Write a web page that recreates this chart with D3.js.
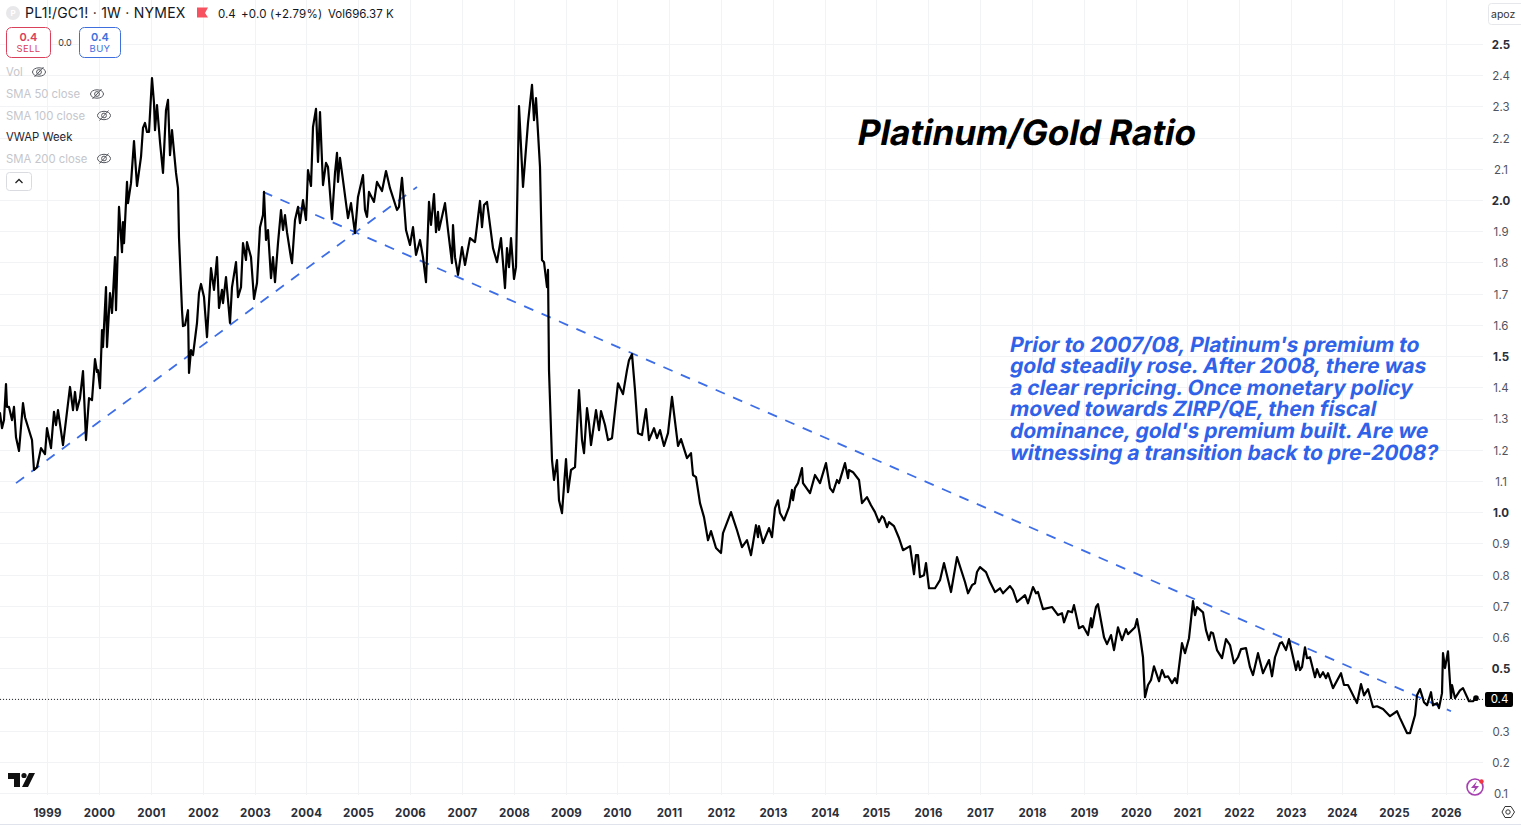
<!DOCTYPE html>
<html>
<head>
<meta charset="utf-8">
<script src="https://cdn.jsdelivr.net/npm/d3@7"></script>
<style>
html,body{margin:0;padding:0;background:#fff;overflow:hidden}
svg{display:block;font-family:Inter,"Noto Sans",sans-serif}
</style>
</head>
<body>
<svg id="c" width="1521" height="826"></svg>
<script>
// weekly bar index (0 = first bar of 1999) and Platinum/Gold ratio
const barsA=[-47,-45,-43,-41,-40,-38,-35,-33,-31,-28,-24,-22,-15,-13,-10,-6,-2,0,4,7,9,11,16,23,26,28,30,33,36,39,42,45,48,50,51,53,55,56,59,60,63,65,68,69,72,75,76,77,80,81,84,87,90,94,96,98,100,102,105,107,108,110,113,116,119,121,123,125,129,131,132,135,136,138,141,142,144,146,150,152,154,157,160,164,167,170,172,175,176,179,183,185,189,191,194,196,199,200,204,207,210,213,216,217,219,221,224,226,228,231,234,236,238,240,244,245,248,251];
const ratioA=[1.317,1.269,1.295,1.410,1.337,1.337,1.295,1.337,1.240,1.196,1.349,1.304,1.231,1.135,1.144,1.205,1.186,1.269,1.205,1.321,1.279,1.327,1.215,1.401,1.327,1.385,1.327,1.365,1.452,1.231,1.365,1.359,1.490,1.449,1.455,1.397,1.583,1.529,1.721,1.529,1.702,1.638,1.817,1.647,1.978,1.833,1.929,1.862,2.058,1.990,2.054,2.189,2.045,2.138,2.231,2.247,2.218,2.218,2.391,2.311,2.224,2.304,2.186,2.087,2.288,2.321,2.144,2.224,2.087,2.038,1.881,1.647,1.596,1.599,1.647,1.446,1.519,1.503,1.606,1.702,1.731,1.689,1.561,1.782,1.712,1.817,1.654,1.712,1.670,1.753,1.606,1.721,1.801,1.689,1.721,1.862,1.808,1.865,1.817,1.683,1.734,1.913,1.952,2.026,1.872,1.904,1.750,1.817,1.737,1.862,1.968,1.904,1.952,1.897,1.814,1.798,1.936,1.978];
const barsB=[253,256,259,261,264,266,269,271,273,276,279,281,285,288,290,291,293,296,299,301,304,308,311,316,318,320,322,327,330,335,339,343,350,352,355,357,359,363,366,369,373,376,379,382,384,387,389,391,392,398,401,405,406,408,411,415,418,423,428,433,435,437,440,446,450,454,458,460,462,464,467,469,472,476,481,485,487,489,493,495,497,500,501,502,505,507,510,512,515,519,521,524,528,532];
const ratioB=[1.926,2.000,1.936,2.096,2.045,2.234,2.292,2.122,2.282,2.048,2.119,2.106,1.939,2.087,2.151,2.058,2.135,2.064,1.990,1.942,1.990,1.894,2.010,2.080,1.968,1.946,2.026,1.994,2.058,2.029,2.093,2.038,1.968,1.978,2.071,1.990,1.904,1.856,1.913,1.824,1.872,1.817,1.737,1.994,1.920,2.019,1.897,1.962,1.904,1.990,1.904,1.798,1.920,1.817,1.760,1.849,1.792,1.878,1.865,1.997,1.913,1.984,1.994,1.846,1.801,1.878,1.718,1.846,1.785,1.878,1.747,1.785,2.301,2.042,2.247,2.369,2.256,2.327,2.106,1.808,1.801,1.721,1.776,1.455,1.167,1.103,1.167,1.038,0.997,1.170,1.064,1.135,1.144,1.391];
const barsC=[535,537,540,542,544,549,552,554,558,561,565,571,576,580,582,585,588,591,595,599,602,607,610,613,617,621,625,631,634,640,644,646,649,653,657,661,664,669,674,676,684,690,695,700,704,709,711,712,716,722,725,728,731];
const ratioC=[1.231,1.189,1.333,1.285,1.215,1.327,1.263,1.324,1.279,1.231,1.237,1.413,1.378,1.455,1.487,1.506,1.391,1.253,1.247,1.330,1.231,1.269,1.237,1.263,1.212,1.253,1.369,1.212,1.234,1.173,1.189,1.119,1.112,1.029,0.984,0.910,0.939,0.885,0.869,0.933,1.000,0.942,0.888,0.910,0.862,0.958,0.920,0.955,0.901,0.949,0.920,1.013,1.038];
const barsD=[733,737,742,745,746,748,751,755,756,763,768,773,779,783,786,790,792,798,801,802,806,812,815,820,824,828,832,835,837,840,842,847,852,856,863,867,869,871,873,877,879,882,888,893,897,904,910,918,921,925,928,930,933];
const ratioD=[0.997,0.974,1.016,1.071,1.038,1.077,1.093,1.141,1.093,1.061,1.119,1.093,1.157,1.077,1.064,1.103,1.093,1.157,1.109,1.135,1.128,1.103,1.029,1.048,1.022,1.000,0.968,0.987,0.981,0.952,0.968,0.955,0.917,0.878,0.891,0.801,0.862,0.862,0.792,0.798,0.837,0.756,0.756,0.782,0.837,0.744,0.856,0.776,0.740,0.766,0.772,0.808,0.824];
const barsE=[939,943,948,953,956,963,966,970,978,981,986,989,991,996,1005,1011,1015,1017,1021,1025,1027,1032,1036,1041,1044,1045,1049,1051,1057,1060,1064,1067,1071,1075,1079,1081,1088,1090,1093,1096,1098,1101,1104,1107,1112,1115,1118,1121,1125,1128,1130];
const ratioE=[0.808,0.776,0.744,0.756,0.740,0.763,0.750,0.712,0.734,0.708,0.760,0.740,0.744,0.689,0.696,0.670,0.676,0.647,0.683,0.679,0.702,0.628,0.635,0.606,0.660,0.631,0.696,0.705,0.599,0.577,0.606,0.558,0.631,0.590,0.625,0.609,0.631,0.657,0.603,0.535,0.407,0.446,0.462,0.506,0.458,0.494,0.471,0.474,0.452,0.468,0.452];
const barsF=[1135,1138,1142,1146,1148,1150,1156,1159,1162,1164,1166,1170,1175,1179,1183,1187,1191,1194,1199,1203,1206,1211,1216,1222,1225,1228,1233,1235,1239,1242,1249,1251,1253,1255,1258,1260,1263,1268,1270,1273,1276,1279,1281,1286,1294,1297,1301,1310,1314,1317,1321,1326,1330,1336,1343,1350,1353,1360,1363,1368,1370,1373,1377,1380,1384,1386,1390,1392,1395,1396,1398,1401,1404,1405,1408,1413,1416,1422,1426,1429];
const ratioF=[0.580,0.548,0.596,0.715,0.670,0.696,0.679,0.622,0.590,0.615,0.612,0.558,0.532,0.593,0.574,0.516,0.535,0.561,0.564,0.503,0.478,0.548,0.484,0.526,0.474,0.535,0.580,0.583,0.558,0.593,0.494,0.522,0.494,0.503,0.567,0.532,0.535,0.471,0.497,0.471,0.487,0.468,0.484,0.436,0.484,0.446,0.446,0.388,0.449,0.413,0.433,0.375,0.378,0.369,0.346,0.362,0.340,0.292,0.292,0.349,0.413,0.433,0.391,0.381,0.423,0.381,0.388,0.372,0.420,0.548,0.500,0.554,0.404,0.446,0.404,0.429,0.436,0.394,0.394,0.404];

const yearLabels=["1999","2000","2001","2002","2003","2004","2005","2006","2007","2008","2009","2010","2011","2012","2013","2014","2015","2016","2017","2018","2019","2020","2021","2022","2023","2024","2025","2026"];
const yearBars=[0,52,104,156,208,259,311,363,415,467,519,570,622,674,726,778,829,881,933,985,1037,1089,1140,1192,1244,1295,1347,1399];
const priceTicks=[0.1,0.2,0.3,0.4,0.5,0.6,0.7,0.8,0.9,1.0,1.1,1.2,1.3,1.4,1.5,1.6,1.7,1.8,1.9,2.0,2.1,2.2,2.3,2.4,2.5];
const boldTicks=[0.5,1.0,1.5,2.0,2.5];
const trendBars=[[-31,370],[216,1404]];
const trendRatios=[[1.093,2.042],[2.026,0.362]];
const lastPrice=0.4;

const title="Platinum/Gold Ratio";
const noteLines=["Prior to 2007/08, Platinum's premium to","gold steadily rose. After 2008, there was","a clear repricing. Once monetary policy","moved towards ZIRP/QE, then fiscal","dominance, gold's premium built. Are we","witnessing a transition back to pre-2008?"];
const legendRows=["Vol","SMA 50 close","SMA 100 close","VWAP Week","SMA 200 close"];

const bars=[...barsA,...barsB,...barsC,...barsD,...barsE,...barsF];
const ratios=[...ratioA,...ratioB,...ratioC,...ratioD,...ratioE,...ratioF];
const series=bars.map((b,i)=>({b,v:ratios[i]}));

const W=1521,H=826,plotR=1483,plotB=795;
const x=d3.scaleLinear().domain([0,1399]).range([47,1446]);
const y=d3.scaleLinear().domain([0.1,2.5]).range([793,44]);
const svg=d3.select("#c");
const ink="#131722";

// grid
const grid=svg.append("g").attr("stroke","#f2f3f5").attr("stroke-width",1);
grid.selectAll("line.h").data(priceTicks).join("line").attr("class","h")
  .attr("x1",0).attr("x2",plotR).attr("y1",d=>Math.round(y(d))+.5).attr("y2",d=>Math.round(y(d))+.5);
grid.selectAll("line.v").data(yearBars).join("line").attr("class","v")
  .attr("y1",0).attr("y2",plotB).attr("x1",d=>Math.round(x(d))+.5).attr("x2",d=>Math.round(x(d))+.5);

// axes
const ax=svg.append("g").attr("transform",`translate(1501,0.8)`)
  .call(d3.axisRight(y).tickValues(priceTicks).tickSize(0).tickPadding(0).tickFormat(d3.format(".1f")));
ax.select(".domain").remove();
ax.selectAll("text").attr("text-anchor","middle").attr("x",0).attr("font-family","Inter").attr("font-size",11.5)
  .attr("fill",d=>boldTicks.includes(d)?"#2a2e39":"#50535e").attr("font-weight",d=>boldTicks.includes(d)?700:400);
const bx=svg.append("g").attr("transform",`translate(0,808.5)`)
  .call(d3.axisBottom(x).tickValues(yearBars).tickSize(0).tickPadding(0).tickFormat((d,i)=>yearLabels[i]));
bx.select(".domain").remove();
bx.selectAll("text").attr("font-family","Inter").attr("font-size",11.5).attr("font-weight",700).attr("letter-spacing",.2).attr("fill","#2a2e39");

svg.append("line").attr("x1",0).attr("x2",W).attr("y1",824.5).attr("y2",824.5).attr("stroke","#e0e3eb");

// last price dotted line
svg.append("line").attr("x1",0).attr("x2",plotR).attr("y1",y(lastPrice)).attr("y2",y(lastPrice))
  .attr("stroke","#222").attr("stroke-width",1).attr("stroke-dasharray","1 2");

// trend lines
const lineGen=d3.line().x(d=>x(d.b)).y(d=>y(d.v));
trendBars.forEach((tb,i)=>{
  svg.append("path").datum(tb.map((b,j)=>({b,v:trendRatios[i][j]})))
    .attr("d",lineGen).attr("fill","none").attr("stroke","#3d6ee8").attr("stroke-width",1.8).attr("stroke-dasharray","10 9");
});

// price line
svg.append("path").datum(series).attr("d",lineGen).attr("fill","none").attr("stroke","#000")
  .attr("stroke-width",2.2).attr("stroke-linejoin","round").attr("stroke-linecap","round");
svg.append("circle").attr("cx",x(bars[bars.length-1])).attr("cy",y(ratios[ratios.length-1])).attr("r",2.8).attr("fill","#000");

// last price label
svg.append("rect").attr("x",1485).attr("y",y(lastPrice)-7.5).attr("width",28).attr("height",15).attr("rx",2).attr("fill","#000");
svg.append("text").attr("x",1499.5).attr("y",y(lastPrice)+4).attr("text-anchor","middle").attr("font-size",11.5).attr("fill","#fff").text("0.4");

// annotations (upright Inter slanted, as in the picture)
svg.append("text").attr("transform","translate(856,145) skewX(-11)").attr("font-family","Inter").attr("font-weight",700)
  .attr("font-size",35).attr("fill","#000").text(title);
svg.selectAll("text.note").data(noteLines).join("text").attr("class","note")
  .attr("transform",(d,i)=>`translate(1009,${351.5+i*21.6}) skewX(-11)`).attr("font-family","Inter").attr("font-weight",700)
  .attr("font-size",21).attr("fill","#2f62e8").text(d=>d);

// header
svg.append("circle").attr("cx",13).attr("cy",13).attr("r",7).attr("fill","#e8e8ea");
svg.append("text").attr("x",13).attr("y",16).attr("text-anchor","middle").attr("font-size",8).attr("fill","#fff").attr("font-weight",700).text("P");
svg.append("text").attr("x",25).attr("y",18).attr("font-size",14).attr("letter-spacing",.24).attr("fill",ink).text("PL1!/GC1! · 1W · NYMEX");
svg.append("path").attr("d","M197 7.5H208L205 13L208 17.5H197Z").attr("fill","#f7525f");
svg.append("text").attr("x",218).attr("y",17.5).attr("font-size",11.5).attr("fill",ink).text("0.4");
svg.append("text").attr("x",241).attr("y",17.5).attr("font-size",11.5).attr("letter-spacing",.2).attr("fill",ink).text("+0.0 (+2.79%)");
svg.append("text").attr("x",328).attr("y",17.5).attr("font-size",11.5).attr("fill",ink).text("Vol696.37 K");

// sell / buy
function tradeBox(bx,w,col,label){
  svg.append("rect").attr("x",bx+.5).attr("y",27.5).attr("width",w).attr("height",30).attr("rx",5).attr("fill","#fff").attr("stroke",col);
  svg.append("text").attr("x",bx+w/2+.5).attr("y",40.5).attr("text-anchor","middle").attr("font-size",11).attr("font-weight",600).attr("fill",col).text("0.4");
  svg.append("text").attr("x",bx+w/2+.5).attr("y",52).attr("text-anchor","middle").attr("font-size",9.5).attr("letter-spacing",.4).attr("fill",col).text(label);
}
tradeBox(6,44,"#d9405a","SELL");
tradeBox(79,41,"#3e6fdc","BUY");
svg.append("text").attr("x",65).attr("y",46).attr("text-anchor","middle").attr("font-size",9).attr("fill","#333").text("0.0");

// legend rows
const rowY=[76,98,119.5,141,162.5];
const eyeX=[39,97,104,null,104];
legendRows.forEach((t,i)=>{
  const hidden=eyeX[i]!==null;
  svg.append("text").attr("x",6).attr("y",rowY[i]).attr("font-size",11.3).attr("fill",hidden?"#c4c6cc":"#1f2430").text(t);
  if(hidden){
    const g=svg.append("g").attr("transform",`translate(${eyeX[i]},${rowY[i]-4})`).attr("fill","none").attr("stroke","#55585f").attr("stroke-width",1);
    g.append("ellipse").attr("rx",6.5).attr("ry",4.2);
    g.append("circle").attr("r",2.4);
    g.append("line").attr("x1",-4.5).attr("y1",5).attr("x2",4.5).attr("y2",-5);
  }
});
svg.append("rect").attr("x",6.5).attr("y",172.5).attr("width",25).attr("height",18).attr("rx",3).attr("fill","#fff").attr("stroke","#d9dbe0");
svg.append("path").attr("d","M15.5 183L19 179.5L22.5 183").attr("fill","none").attr("stroke","#222").attr("stroke-width",1.3);

// scale mode box
svg.append("rect").attr("x",1488.5).attr("y",3.5).attr("width",40).attr("height",21).attr("rx",3).attr("fill","#fff").attr("stroke","#e6e7ea");
svg.append("text").attr("x",1491).attr("y",17.5).attr("font-size",10.5).attr("fill","#333").text("apoz");

// logo
svg.append("path").attr("d","M8 773H20V787H14V779H8Z M29 773H35L28 787H22Z").attr("fill","#111");
svg.append("circle").attr("cx",24).attr("cy",775.5).attr("r",2.6).attr("fill","#111");

// bolt badge
svg.append("circle").attr("cx",1475).attr("cy",787).attr("r",8).attr("fill","#fff").attr("stroke","#a63fb0").attr("stroke-width",1.6);
svg.append("path").attr("d","M1477 781L1471 788H1475L1473 793L1479 786H1475Z").attr("fill","#a63fb0");
svg.append("circle").attr("cx",1481.5).attr("cy",781.5).attr("r",2.2).attr("fill","#f23645");

// settings hexagon
svg.append("path").attr("d","M1502 812L1505 806.5H1511L1514.5 812L1511 817.5H1505Z").attr("fill","none").attr("stroke","#333").attr("stroke-width",1);
svg.append("circle").attr("cx",1508).attr("cy",812).attr("r",2.2).attr("fill","none").attr("stroke","#333");
</script>
</body>
</html>
